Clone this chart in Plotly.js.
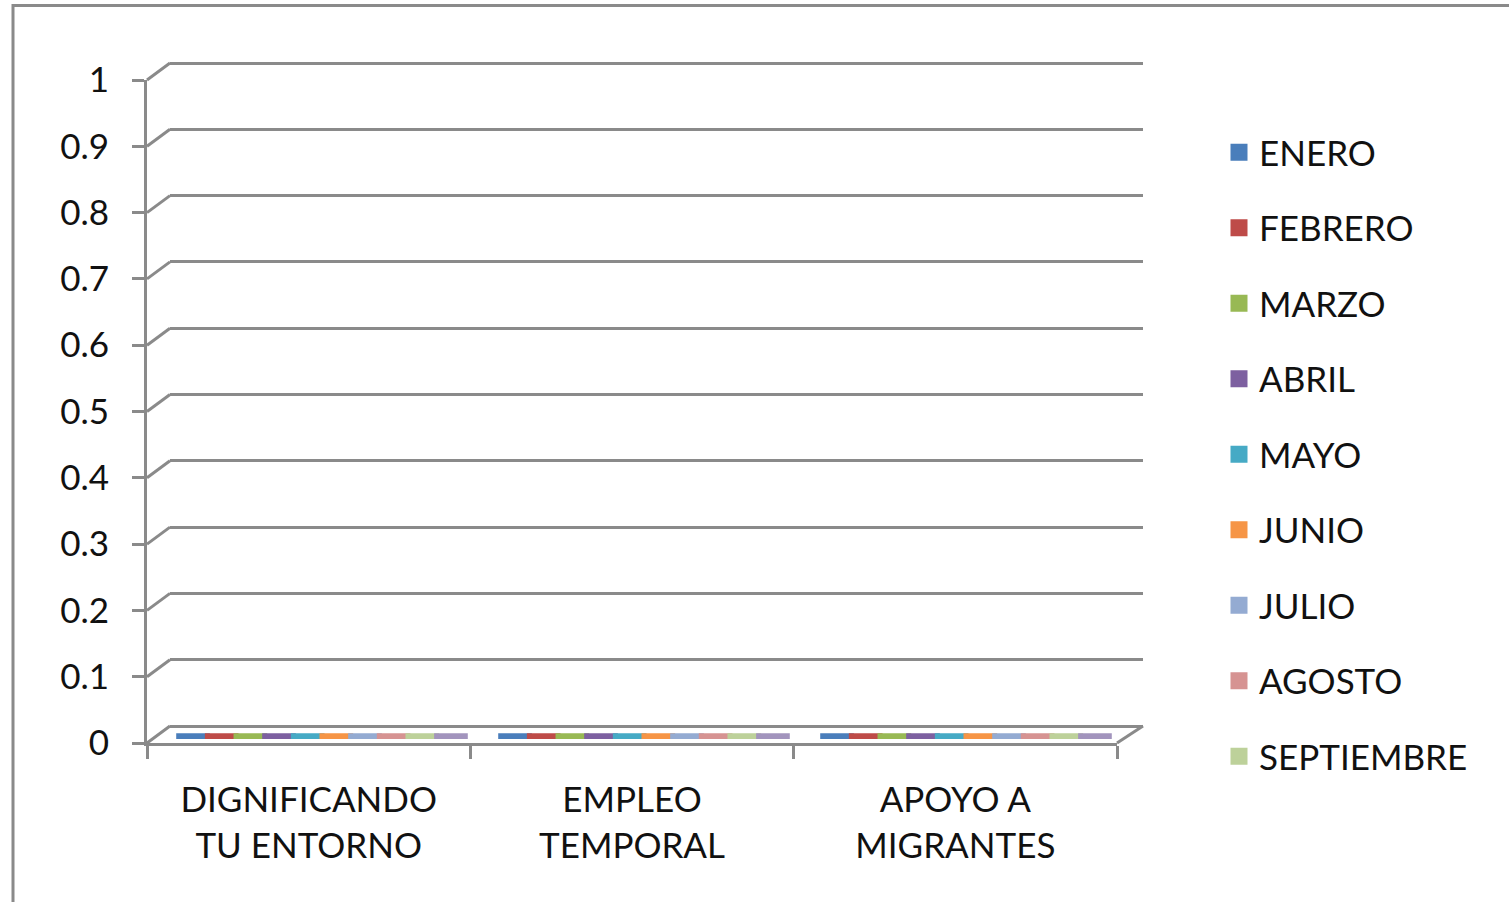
<!DOCTYPE html>
<html>
<head>
<meta charset="utf-8">
<script src="https://cdn.plot.ly/plotly-3.0.1.min.js"></script>
<style>html,body{margin:0;padding:0;background:#fff;}#chart{width:1509px;height:902px;}</style>
</head>
<body>
<div id="chart"></div>
<script>
// ---- data ----
const categories = ['DIGNIFICANDO<br>TU ENTORNO', 'EMPLEO<br>TEMPORAL', 'APOYO A<br>MIGRANTES'];
const seriesNames = ['ENERO','FEBRERO','MARZO','ABRIL','MAYO','JUNIO','JULIO','AGOSTO','SEPTIEMBRE','OCTUBRE'];
const ENERO      = [0, 0, 0];
const FEBRERO    = [0, 0, 0];
const MARZO      = [0, 0, 0];
const ABRIL      = [0, 0, 0];
const MAYO       = [0, 0, 0];
const JUNIO      = [0, 0, 0];
const JULIO      = [0, 0, 0];
const AGOSTO     = [0, 0, 0];
const SEPTIEMBRE = [0, 0, 0];
const OCTUBRE    = [0, 0, 0];
const yTickVals  = [0, 0.1, 0.2, 0.3, 0.4, 0.5, 0.6, 0.7, 0.8, 0.9, 1];
const yTickText  = ['0','0.1','0.2','0.3','0.4','0.5','0.6','0.7','0.8','0.9','1'];

// ---- styles ----
const seriesValues = [ENERO,FEBRERO,MARZO,ABRIL,MAYO,JUNIO,JULIO,AGOSTO,SEPTIEMBRE,OCTUBRE];
const colors = ['#4A7EBB','#BE4B48','#98B954','#7D60A0','#46AAC5','#F69546','#94ABD2','#D69392','#BDD19A','#A294BD'];
const W = 1509, H = 902;
const FONT = 'Lato, "Open Sans", sans-serif';
const FS = 35;
const GRID = '#8A8A8A';
const px = x => x / W;
const py = y => 1 - y / H;

// front (labelled) axis frame, back wall frame, bar-top frame (pixel geometry)
const front = {x0: 147, x1: 1117, y0: 743, y1: 80};
const back  = {x0: 170, x1: 1143, y0: 726, y1: 63};
const face  = {x0: 161, x1: 1127, y0: 739, y1: 76};
const FACE_THICK = 0.005; // visual thickness of the zero-height bar tops (axis units)
const TOP = 1.003;        // tiny headroom so the top gridline is drawn

const traces = seriesNames.map((name, i) => ({
  type: 'bar',
  name: name,
  x: categories,
  y: seriesValues[i].map(() => FACE_THICK),
  base: seriesValues[i],
  xaxis: 'x3', yaxis: 'y3',
  marker: {color: colors[i], line: {color: colors[i], width: 5}},
  showlegend: i < 9,
  legendgroup: 'g' + i,
  hoverinfo: 'skip'
}));

// diagonal connectors between front axis ticks and back wall gridlines
const fy = v => front.y0 + (front.y1 - front.y0) * v;
const by = v => back.y0 + (back.y1 - back.y0) * v;
const lineStyle = {color: GRID, width: 3};
const shapes = yTickVals.map(v => ({
  type: 'line', xref: 'paper', yref: 'paper',
  x0: px(front.x0), y0: py(fy(v)), x1: px(back.x0), y1: py(by(v)),
  line: lineStyle
}));
// right floor edge
shapes.push({type: 'line', xref: 'paper', yref: 'paper',
  x0: px(front.x1), y0: py(fy(0)), x1: px(back.x1), y1: py(by(0)), line: lineStyle});
// outer chart border
shapes.push({type: 'rect', xref: 'paper', yref: 'paper',
  x0: px(13), y0: -0.05, x1: 1.05, y1: py(5.5), line: {color: GRID, width: 3}, fillcolor: 'rgba(0,0,0,0)'});

const layout = {
  width: W, height: H,
  margin: {l: 0, r: 0, t: 0, b: 0},
  paper_bgcolor: '#ffffff',
  plot_bgcolor: 'rgba(0,0,0,0)',
  font: {family: FONT, size: FS, color: '#111111'},
  barmode: 'group',
  bargap: 0.11,
  bargroupgap: 0,
  showlegend: true,
  legend: {
    x: px(1219), y: py(123), xanchor: 'left', yanchor: 'top',
    font: {family: FONT, size: FS, color: '#111111'},
    tracegroupgap: 27, bgcolor: 'rgba(0,0,0,0)'
  },
  // front axis (labels, ticks, axis lines)
  xaxis: {
    domain: [px(front.x0), px(front.x1)], anchor: 'y',
    type: 'category', categoryarray: categories, categoryorder: 'array',
    range: [-0.5, categories.length - 0.5],
    showgrid: false, zeroline: false,
    showline: true, linecolor: GRID, linewidth: 3,
    ticks: 'outside', tickson: 'boundaries', ticklen: 13, tickwidth: 3, tickcolor: GRID,
    tickfont: {family: FONT, size: FS, color: '#111111'},
    ticklabelstandoff: 24,
    fixedrange: true
  },
  yaxis: {
    domain: [py(front.y0), py(front.y1)], anchor: 'x',
    range: [0, 1],
    tickvals: yTickVals, ticktext: yTickText,
    showgrid: false, zeroline: false,
    showline: true, linecolor: GRID, linewidth: 3,
    ticks: 'outside', ticklen: 12, tickwidth: 3, tickcolor: GRID,
    tickfont: {family: FONT, size: FS, color: '#111111'},
    ticklabelstandoff: 16,
    fixedrange: true
  },
  // back wall (gridlines)
  xaxis2: {
    domain: [px(back.x0), px(back.x1)], anchor: 'y2',
    range: [0, 1], visible: false, fixedrange: true
  },
  yaxis2: {
    domain: [py(back.y0), py(back.y0 + (back.y1 - back.y0) * TOP)], anchor: 'x2',
    range: [0, TOP], tickvals: yTickVals,
    showgrid: true, gridcolor: GRID, gridwidth: 3,
    zeroline: true, zerolinecolor: GRID, zerolinewidth: 3,
    showline: false, showticklabels: false, ticks: '',
    fixedrange: true
  },
  // bar tops (depth mid-plane)
  xaxis3: {
    domain: [px(face.x0), px(face.x1)], anchor: 'y3',
    type: 'category', categoryarray: categories, categoryorder: 'array',
    range: [-0.5, categories.length - 0.5],
    visible: false, fixedrange: true
  },
  yaxis3: {
    domain: [py(face.y0), py(face.y1)], anchor: 'x3',
    range: [0, 1], visible: false, fixedrange: true
  },
  shapes: shapes
};

// empty traces so the front-axis and back-wall subplots are created
traces.unshift({type: 'scatter', x: [], y: [], xaxis: 'x2', yaxis: 'y2', showlegend: false, hoverinfo: 'skip'});
traces.unshift({type: 'scatter', x: [categories[0]], y: [null], xaxis: 'x', yaxis: 'y', mode: 'markers', showlegend: false, hoverinfo: 'skip'});

Plotly.newPlot('chart', traces, layout, {staticPlot: true, displayModeBar: false});
</script>
</body>
</html>
